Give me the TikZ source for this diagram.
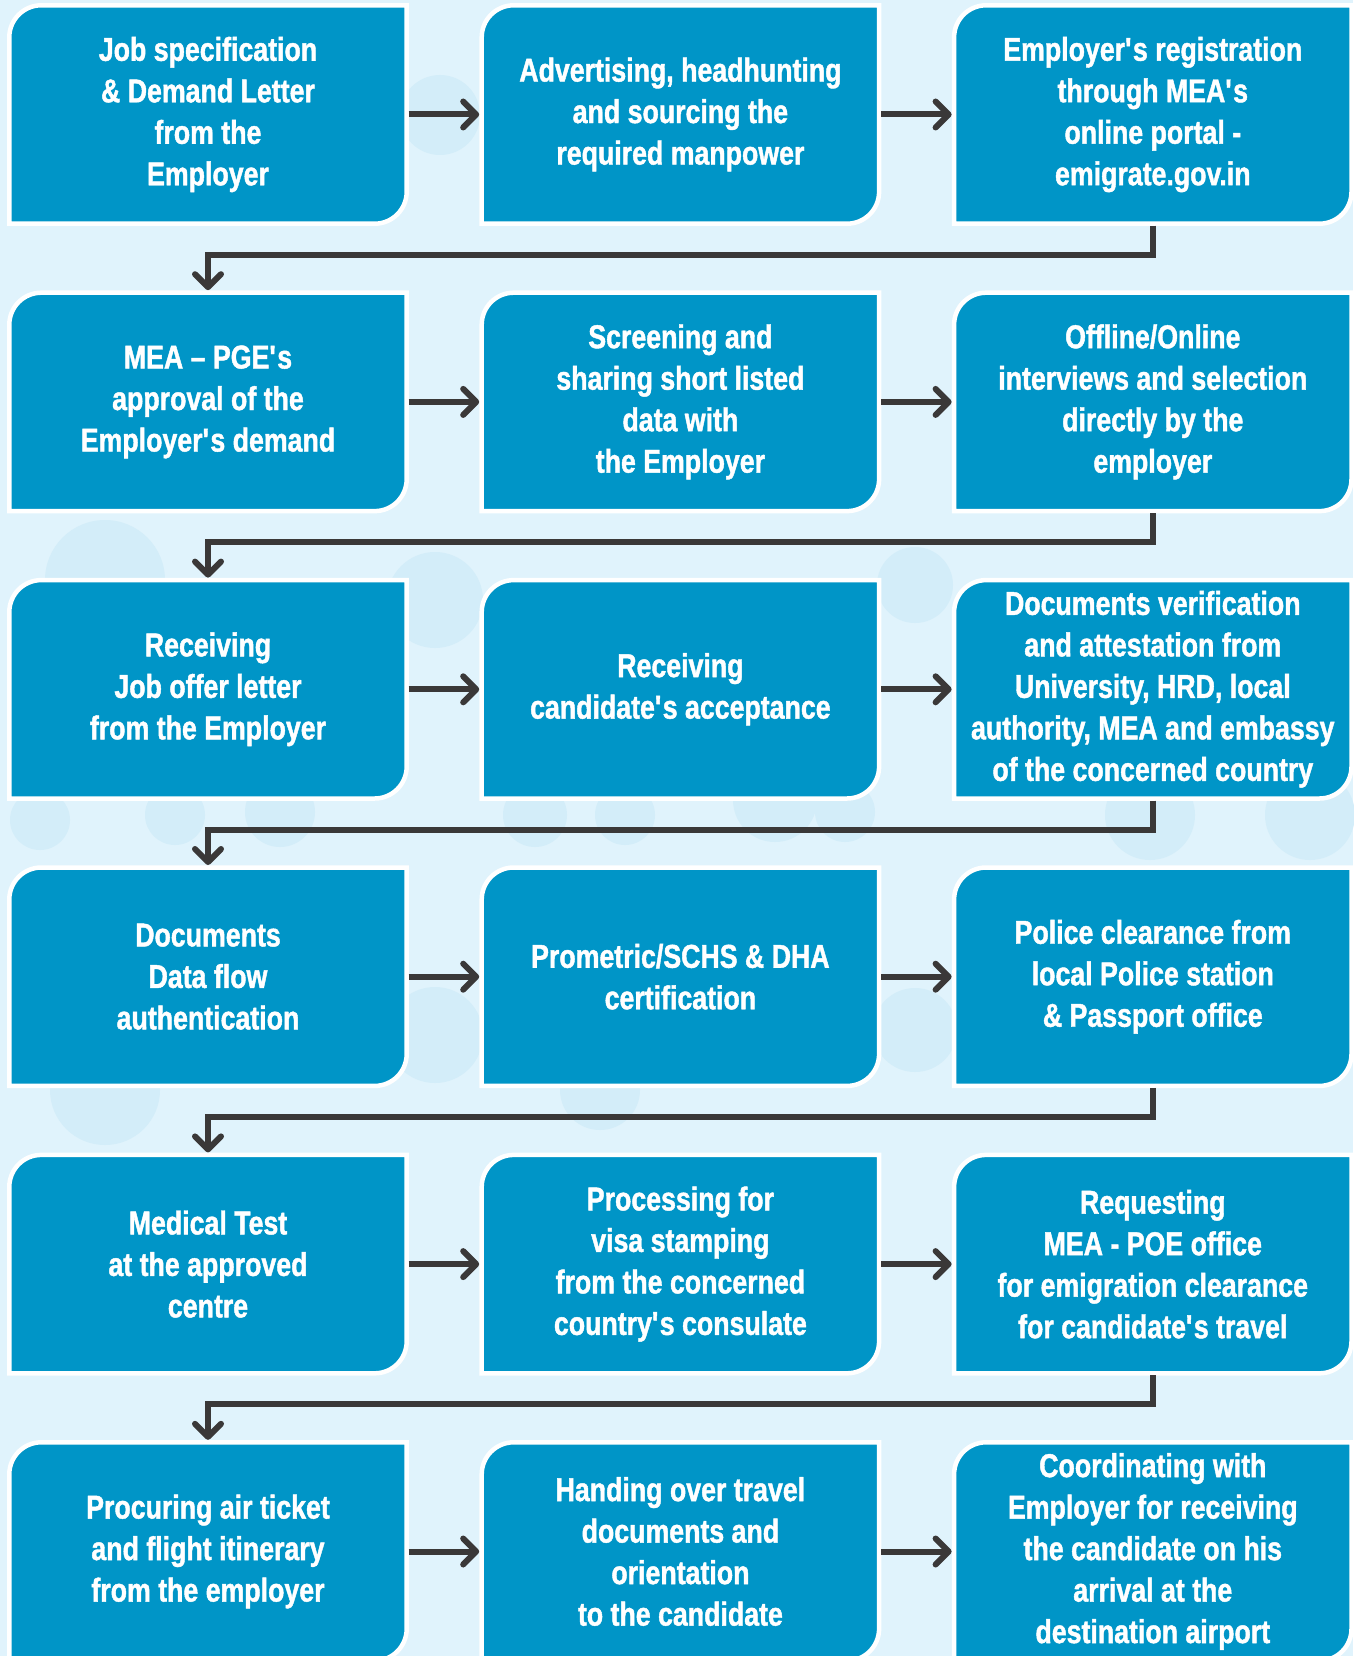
\documentclass[tikz,border=0pt]{standalone}
\usepackage{fontspec}
\setmainfont{Liberation Sans}[FakeStretch=0.81, BoldFeatures={FakeBold=1.3}]
\usetikzlibrary{arrows.meta, positioning, backgrounds}
\definecolor{stageblue}{HTML}{0095C7}
\definecolor{paleblue}{HTML}{E0F3FC}
\definecolor{bubble}{HTML}{D3EDF9}
\definecolor{linkgray}{HTML}{3A3838}
\newcommand{\ap}{\textquotesingle}

\begin{document}
\begin{tikzpicture}[
        x=1pt, y=1pt,
        font=\bfseries\fontsize{33}{41.5}\selectfont,
        >={Straight Barb[length=13pt,width=26pt,round]},
        node distance=69pt and 75pt,
        stage/.style={minimum width=397pt, minimum height=218pt, inner sep=0pt, align=center, text=white},
        shell/.style={fill=stageblue, draw=white, line width=4.5pt},
        arrow/.style={->, line width=6pt, color=linkgray, shorten <=2pt, shorten >=2.5pt},
    ]
    \useasboundingbox (0,0) rectangle (1353,-1656);

    % Nodes
    \node[stage] (spec) at (208,-114.5) {Job specification\\ \& Demand Letter\\ from the\\ Employer};
    \node[stage, right=of spec] (advert) {Advertising, headhunting\\ and sourcing the\\ required manpower};
    \node[stage, right=of advert] (register) {Employer\ap s registration\\ through MEA\ap s\\ online portal -\\ emigrate.gov.in};

    \node[stage, below=of spec] (approve) {MEA -- PGE\ap s\\ approval of the\\ Employer\ap s demand};
    \node[stage, right=of approve] (screen) {Screening and\\ sharing short listed\\ data with\\ the Employer};
    \node[stage, right=of screen] (interview) {Offline/Online\\ interviews and selection\\ directly by the\\ employer};

    \node[stage, below=of approve] (offer) {Receiving\\ Job offer letter\\ from the Employer};
    \node[stage, right=of offer] (accept) {Receiving\\ candidate\ap s acceptance};
    \node[stage, right=of accept] (verify) {Documents verification\\ and attestation from\\ University, HRD, local\\ authority, MEA and embassy\\ of the concerned country};

    \node[stage, below=of offer] (authen) {Documents\\ Data flow\\ authentication};
    \node[stage, right=of authen] (certify) {Prometric/SCHS \& DHA\\ certification};
    \node[stage, right=of certify] (police) {Police clearance from\\ local Police station\\ \& Passport office};

    \node[stage, below=of authen] (medical) {Medical Test\\ at the approved\\ centre};
    \node[stage, right=of medical] (visa) {Processing for\\ visa stamping\\ from the concerned\\ country\ap s consulate};
    \node[stage, right=of visa] (emigrate) {Requesting\\ MEA - POE office\\ for emigration clearance\\ for candidate\ap s travel};

    \node[stage, below=of medical] (ticket) {Procuring air ticket\\ and flight itinerary\\ from the employer};
    \node[stage, right=of ticket] (handover) {Handing over travel\\ documents and\\ orientation\\ to the candidate};
    \node[stage, right=of handover] (receive) {Coordinating with\\ Employer for receiving\\ the candidate on his\\ arrival at the\\ destination airport};

    % Boxes and background
    \begin{scope}[on background layer]
        \fill[paleblue] (0,0) rectangle (1353,-1656);
        \foreach \cx/\cy/\r in {440/-115/40, 105/-580/60, 435/-600/48, 915/-585/38, 1255/-620/40,
                40/-820/30, 175/-815/30, 280/-812/35, 535/-815/32, 625/-815/30, 775/-800/42,
                845/-812/30, 1150/-815/45, 1310/-815/45, 435/-1035/48, 915/-1030/42,
                105/-1090/55, 600/-1090/40}
            \fill[bubble] (\cx,\cy) circle[radius=\r];
        \foreach \n in {spec,advert,register,approve,screen,interview,offer,accept,verify,
                authen,certify,police,medical,visa,emigrate,ticket,handover,receive}
            \filldraw[shell] (\n.south west) -- ([yshift=-32pt]\n.north west)
                arc[start angle=180, end angle=90, radius=32] -- (\n.north east)
                -- ([yshift=32pt]\n.south east)
                arc[start angle=0, end angle=-90, radius=32] -- cycle;
    \end{scope}

    % Arrows
    \foreach \a/\b in {spec/advert, advert/register, approve/screen, screen/interview,
            offer/accept, accept/verify, authen/certify, certify/police,
            medical/visa, visa/emigrate, ticket/handover, handover/receive}
        \draw[arrow] (\a) -- (\b);
    \foreach \a/\b in {register/approve, interview/offer, verify/authen,
            police/medical, emigrate/ticket}
        \draw[arrow] (\a.south) -- ++(0,-31) -| (\b.north);

\end{tikzpicture}
\end{document}
